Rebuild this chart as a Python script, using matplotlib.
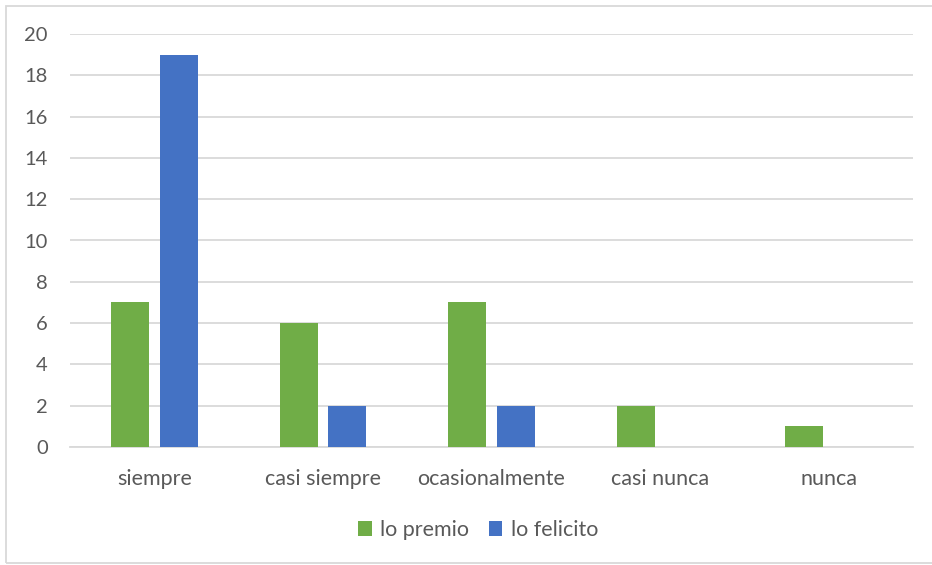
import numpy as np
import matplotlib
matplotlib.use("Agg")
import matplotlib.pyplot as plt
from matplotlib.patches import Rectangle

# data
categories = ["siempre", "casi siempre", "ocasionalmente", "casi nunca", "nunca"]
lo_premio = [7, 6, 7, 2, 1]
lo_felicito = [19, 2, 2, 0, 0]
yticks = [0, 2, 4, 6, 8, 10, 12, 14, 16, 18, 20]

green = "#70AD47"
blue = "#4472C4"
text_col = "#595959"
grid_col = "#D9D9D9"

plt.rcParams['font.family'] = ['Lato', 'DejaVu Sans']

fig = plt.figure(figsize=(9.32, 5.65), dpi=100)
ax = fig.add_axes([70/932, 1-447/565, (913-70)/932, (447-34)/565])

x = np.arange(len(categories))
w = 0.225
off = 0.144
ax.bar(x - off, lo_premio, w, color=green, label="lo premio", zorder=3)
ax.bar(x + off, lo_felicito, w, color=blue, label="lo felicito", zorder=3)

ax.set_xlim(-0.5, len(categories) - 0.5)
ax.set_ylim(0, 20)
ax.set_yticks(yticks)
ax.set_xticks(x)
ax.set_xticklabels(categories)
ax.yaxis.grid(True, color=grid_col, linewidth=1.3, zorder=0)
ax.set_axisbelow(True)
for s in ["top", "right", "left"]:
    ax.spines[s].set_visible(False)
ax.spines["bottom"].set_color(grid_col)
ax.spines["bottom"].set_linewidth(1.3)
ax.tick_params(axis="both", length=0, colors=text_col, labelsize=15.5)
ax.tick_params(axis="y", labelsize=14.5, pad=16)
ax.tick_params(axis="x", pad=16)

leg = fig.legend(loc="center", bbox_to_anchor=(478/932, 1-530/565), ncol=2,
                 frameon=False, fontsize=15.5, handlelength=0.65, handleheight=0.65,
                 handletextpad=0.4, columnspacing=0.9)
for t in leg.get_texts():
    t.set_color(text_col)

# chart border
fig.patches.append(Rectangle((6/932, 2/565), 1.0, 1-8/565, transform=fig.transFigure,
                             fill=False, edgecolor="#D9D9D9", linewidth=1.3))

fig.savefig("out.png", dpi=100, facecolor="white")
